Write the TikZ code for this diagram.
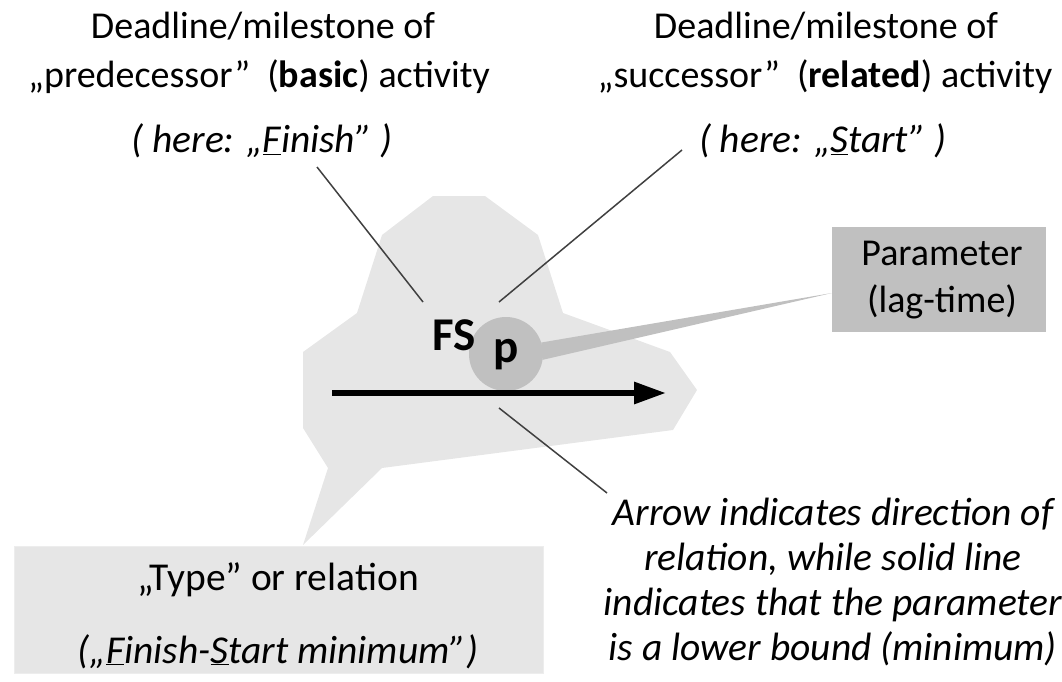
\documentclass[tikz,border=0pt]{standalone}
\usepackage{fontspec}
\setmainfont{Carlito}
\usetikzlibrary{arrows.meta}
\definecolor{blobgray}{HTML}{E6E6E6}
\definecolor{boxgray}{HTML}{E6E6E6}
\definecolor{midgray}{HTML}{C0C0C0}
\definecolor{leadgray}{HTML}{404040}
\begin{document}
\begin{tikzpicture}[x=1pt,y=-1pt,
  lbl/.style={anchor=base, inner sep=0pt, font=\fontsize{38}{42}\selectfont},
  boxlbl/.style={anchor=base, inner sep=0pt, font=\fontsize{39.5}{42}\selectfont},
  note/.style={anchor=base, inner sep=0pt, font=\fontsize{39.5}{42}\selectfont\itshape},
  leader/.style={draw=leadgray, line width=1.5pt},
  mainarrow/.style={line width=6pt, -{Triangle[length=32pt,width=21pt]}},
]
\useasboundingbox (0,0) rectangle (1062,682);

% grey speech-bubble area around the relation symbol
\fill[blobgray] (303,352) -- (357,313) -- (382,235) -- (433,196) -- (485,196)
  -- (538,235) -- (563,313) -- (670,352) -- (697,390) -- (673,430)
  -- (382,468) -- (303,545) -- (328,468) -- (303,428) -- cycle;

% relation type box
\node[fill=boxgray, draw=white!93!black, line width=1pt, inner sep=0pt,
      minimum width=529pt, minimum height=127pt, anchor=north west]
  (typebox) at (14,546) {};
\node[boxlbl] (typeA) at (278,590) {„Type” or relation};
\node[note] (typeB) at (278,663) {(„\underline{F}inish-\underline{S}tart minimum”)};

% parameter box
\node[fill=midgray, inner sep=0pt, minimum width=214pt, minimum height=105pt,
      anchor=north west] (parbox) at (832,227) {};
\node[lbl] (parA) at (942,265) {Parameter};
\node[lbl] (parB) at (942,312) {(lag-time)};

% pointer from the parameter circle to its box
\coordinate (wedgeTip) at (832,293);
\node[circle, fill=midgray, minimum size=74pt, inner sep=0pt] (pc) at (506,354) {};
\fill[midgray] (pc.18) -- (wedgeTip) -- (pc.-9) -- cycle;
\node[anchor=base, inner sep=0pt, font=\fontsize{47}{50}\selectfont\bfseries]
  (plabel) at (506,362) {p};
\node[anchor=base, inner sep=0pt, font=\fontsize{47}{50}\selectfont\bfseries]
  (fs) at (454,350) {FS};

% direction arrow
\coordinate (arrStart) at (332,393);
\coordinate (arrEnd) at (666,393);
\draw[mainarrow] (arrStart) -- (arrEnd);

% predecessor text
\node[lbl] (predA) at (263,39) {Deadline/milestone of};
\node[lbl] (predB) at (259,88) {„predecessor”\ \ (\textbf{basic}) activity};
\node[note] (predC) at (262,153) {( here: „\underline{F}inish” )};

% successor text
\node[lbl] (succA) at (826,39) {Deadline/milestone of};
\node[lbl] (succB) at (825,88) {„successor”\ \ (\textbf{related}) activity};
\node[note] (succC) at (823,153) {( here: „\underline{S}tart” )};

% explanation of the arrow
\node[note] (expA) at (833,525) {Arrow indicates direction of};
\node[note] (expB) at (833,570) {relation, while solid line};
\node[note] (expC) at (833,615) {indicates that the parameter};
\node[note] (expD) at (833,660) {is a lower bound (minimum)};

% leader lines
\coordinate (finTop) at (317,167);
\coordinate (finEnd) at (423,302);
\coordinate (staTop) at (682,150);
\coordinate (staEnd) at (499,302);
\coordinate (arrNote) at (499,408);
\coordinate (expTop) at (607,493);
\draw[leader] (finTop) -- (finEnd);
\draw[leader] (staTop) -- (staEnd);
\draw[leader] (arrNote) -- (expTop);
\end{tikzpicture}
\end{document}
